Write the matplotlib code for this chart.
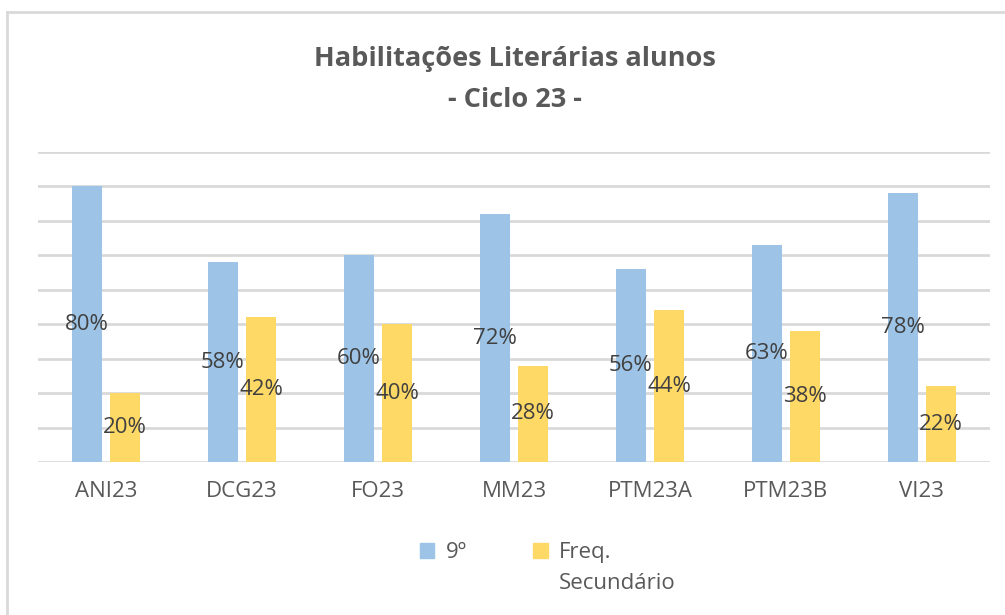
import numpy as np
import matplotlib.pyplot as plt
from matplotlib.lines import Line2D
from matplotlib.patches import Patch

# Dados do gráfico
turmas = ['ANI23', 'DCG23', 'FO23', 'MM23', 'PTM23A', 'PTM23B', 'VI23']
nono = [0.80, 0.58, 0.60, 0.72, 0.56, 0.63, 0.78]
secundario = [0.20, 0.42, 0.40, 0.28, 0.44, 0.38, 0.22]
series = ['9º', 'Freq.', 'Secundário']

azul = '#9DC3E6'
amarelo = '#FFD966'
cinza = '#595959'

plt.rcParams['font.family'] = ['Open Sans', 'DejaVu Sans']

fig = plt.figure(figsize=(10.05, 6.15), dpi=100)
ax = fig.add_axes([0.0378, 0.2488, 0.9472, 0.504])

x = np.arange(len(turmas))
larg = 0.22
b1 = ax.bar(x - 0.14, nono, larg, color=azul, zorder=2)
b2 = ax.bar(x + 0.14, secundario, larg, color=amarelo, zorder=2)

# Rótulos ao centro das barras
for barras, vals in [(b1, nono), (b2, secundario)]:
    for b, v in zip(barras, vals):
        ax.text(b.get_x() + b.get_width() / 2, v / 2, f"{v*100:.0f}%",
                ha='center', va='center', fontsize=16, color='#404040', zorder=3)

ax.set_xlim(-0.5, len(turmas) - 0.5)
ax.set_ylim(0, 0.9)
ax.set_yticks(np.arange(0, 0.91, 0.1))
ax.yaxis.grid(True, color='#D9D9D9', linewidth=2, zorder=0)
ax.tick_params(axis='y', left=False, labelleft=False)
ax.set_xticks(x)
ax.set_xticklabels(turmas, fontsize=16, color=cinza)
ax.tick_params(axis='x', length=0, pad=14)
for s in ax.spines.values():
    s.set_visible(False)

fig.text(0.512, 0.904, "Habilitações Literárias alunos", ha='center', va='center',
         fontsize=19.5, fontweight='bold', color=cinza)
fig.text(0.512, 0.837, "- Ciclo 23 -", ha='center', va='center',
         fontsize=19.5, fontweight='bold', color=cinza)

# Legenda: segunda linha do rótulo amarelo fica por baixo de "Freq."
handles = [Patch(color=azul), Patch(color=amarelo)]
leg = fig.legend(handles, series[:2], loc='center', bbox_to_anchor=(0.513, 0.101),
                 ncol=2, frameon=False, fontsize=16, labelcolor=cinza,
                 handlelength=0.65, handleheight=0.65, handletextpad=0.5,
                 columnspacing=3.0)
fig.canvas.draw()
bb = leg.get_texts()[1].get_window_extent().transformed(fig.transFigure.inverted())
fig.text(bb.x0, bb.y0 - 0.015, series[2], ha='left', va='top',
         fontsize=16, color=cinza)

# Moldura do gráfico
fig.add_artist(Line2D([0.007, 1.0], [1 - 12 / 615, 1 - 12 / 615],
                      color='#D9D9D9', linewidth=2, transform=fig.transFigure))
fig.add_artist(Line2D([0.007, 0.007], [0.0, 1 - 12 / 615],
                      color='#D9D9D9', linewidth=2, transform=fig.transFigure))

fig.savefig('out.png', dpi=100, facecolor='white')
